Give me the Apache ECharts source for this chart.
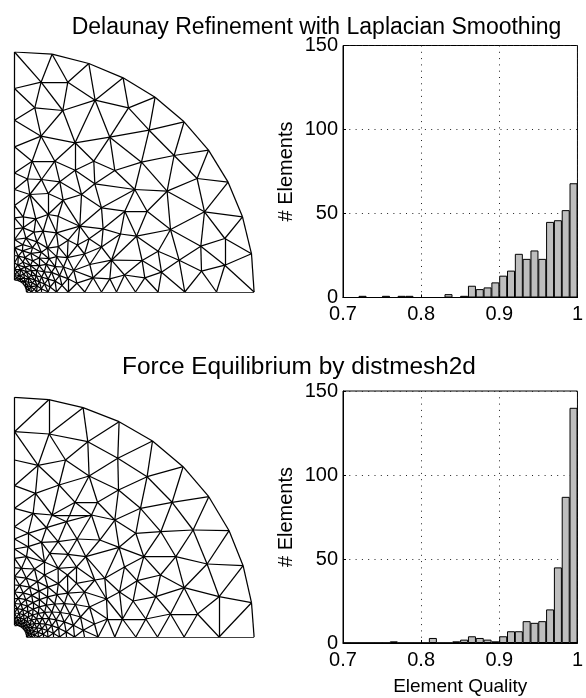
<!DOCTYPE html>
<html><head><meta charset="utf-8">
<script src="https://cdn.jsdelivr.net/npm/echarts@6/dist/echarts.min.js"></script>
<style>html,body{margin:0;padding:0;background:#fff}#c{width:586px;height:698px}</style>
</head><body><div id="c"></div>
<script>
// Histogram bins and counts
const binStarts = [0.70,0.71,0.72,0.73,0.74,0.75,0.76,0.77,0.78,0.79,0.80,0.81,0.82,0.83,0.84,0.85,0.86,0.87,0.88,0.89,0.90,0.91,0.92,0.93,0.94,0.95,0.96,0.97,0.98,0.99];
const delaunayCounts = [0,0,1,0,0,1,0,1,1,0,0,0,0,2,0,1,7,5,6,9,13,16,26,23,28,23,45,46,52,68];
const forceCounts    = [0,0,0,0,0,0,1,0,0,0,0,3,0,0,1,2,4,3,2,1,4,7,7,13,12,13,20,45,87,140];
const yTicksMax = 150;
const titles = ['Delaunay Refinement with Laplacian Smoothing','Force Equilibrium by distmesh2d'];

// Mesh nodes (mesh units: hole radius 12, outer radius 240)
const delaunayNodes = [
[0,240],[37.6,237.8],[74.3,228.5],[108.6,214.2],[140.6,194.8],[169.6,170.2],[194,141.8],[213.6,109.8],[228,75.2],[237,38.2],[239.6,0],
[0,203.5],[0,171.8],[0,145.2],[0,119],[0,102.5],[0,86.5],[0,74.2],[0,63.2],[0,52.5],[0,44.2],[0,36.5],[0,29.2],[0,22.5],[0,17.5],
[202,0],[170.3,0],[143.6,0],[121,0],[102,0],[87,0],[70.3,0],[53.6,0],[42,0],[33.6,0],[27,0],[22,0],[17,0],
[12,0],[11.6,3.1],[10.4,6],[8.5,8.5],[6,10.4],[3.1,11.6],[0,12],
[26.6,209.8],[53.3,209.8],[80.6,191.8],[20.3,184.2],[48.3,181.5],[114,184.2],[26.6,155.8],[60.6,149.2],[95.3,154.8],[17.6,130.8],[40.3,130.8],[79.3,130.8],
[134.6,161.8],[159.6,136.5],[127,129.8],[182.6,113.5],[152.6,100.8],[120.3,102.5],[132.6,80.8],[190,80.2],[156,62.5],[122,55.8],[210.3,53.5],[186.3,45.8],[143.6,40.8],[164.6,31.8],[127.6,31.5],[210.3,26.8],[187,20.8],[147,19.8],[130.3,14.2],
[60.6,121.8],[100.3,121.5],[13,113],[27,112.5],[45.3,110.2],[80.3,108.2],
[15.3,97.5],[33.6,98.5],[48.6,91.8],[67,97.5],[87,84.2],[110.3,80.8],
[8.6,75.2],[21.3,73.2],[33.6,77.5],[43.6,75.8],[65.3,65.8],[88.6,63.2],[106,58],
[8.6,64.2],[28.6,60.8],[42,59.2],[53.6,51.8],[74.6,53.2],[97,31.8],[75.3,27.5],[78.6,14.2],[95.3,13.2],[110,17],[70,38],[63,47],[87,45],
[14.4,2],[13.1,6.1],[10.3,10.3],[6.1,13.1],[2,14.4],
[16.2,5.3],[13.8,10],[10,13.8],[5.3,16.2],
[19.8,2.8],[17.8,9.1],[14.1,14.1],[9.1,17.8],[2.8,19.8],
[22.7,6.1],[20.4,11.8],[16.6,16.6],[11.8,20.4],[6.1,22.7],
[26.8,3.3],[25,10.1],[21.6,16.2],[16.6,21.3],[10.5,24.9],[3.3,26.8],
[30,8],[27.1,15],[22.3,21.5],[16,26.6],[8.5,29.8],
[35.6,5],[33.6,12.9],[29.8,20.1],[24.6,26.3],[18,31.2],[10.5,34.4],[3.8,35.8],
[40.6,10.9],[37.1,19.7],[31.7,27.6],[24.7,34],[16.4,38.7],[8,41.2],
[47.5,6.7],[45.1,16.4],[40.7,25.4],[34.5,33.3],[26.8,39.8],[18,44.5],[8.3,47.3],
[53.4,13.3],[49,25],[42.1,35.4],[33.1,43.9],[22.4,50.2],[11.4,53.8],
[62.4,8.8],[59.2,21.5],[52.8,34.3],[43.8,45.3],[19.5,59.9]
];
const forceNodes = [
[0,239.7],[34.3,237.3],[68.6,229.3],[104.6,215.3],[138,196],[168.6,170.3],[194.3,140.3],[214.6,106.3],[228.6,71.3],[237,34.3],[239.6,0],
[0,205.3],[0,177],[0,151.3],[0,128.7],[0,110.3],[0,98],[0,88],[0,78.7],[0,69.3],[0,60.3],[0,52],[0,45],[0,39],[0,33.5],[0,28.5],[0,24],[0,20],[0,17],
[204.6,0],[169.6,0],[143,0],[121.3,0],[100.3,0],[83.6,0],[70,0],[60,0],[52,0],[45,0],[39,0],[33.5,0],[28.5,0],[24,0],[20.3,0],[17,0],
[34.6,203],[73.3,195.3],[23.6,171.7],[51,177],[103.3,178.7],[74.6,161],[44.6,152],[21,143.7],[104,147],[60.6,134.7],[83,134.7],[37.6,122],[18.6,123.7],
[132.6,160.3],[157.6,134.7],[126,128.7],[178.6,107],[146.3,105.3],[121.3,103.7],[129.3,80.3],[161.3,80.3],[192.6,73],[146,62],[122.6,56.3],[169.6,49.3],[204.6,40.3],[141.3,40.3],[118.6,36],[156,23],[183,23],[131.3,18],
[55.3,122],[77,122],[100.3,117],[13.6,103.7],[32,109.3],[52,115.3],[43.6,95.3],[62.6,98],[85.3,97],[104.6,89.7],[13.6,90.3],[27,94.7],[12,80.3],[35.3,83.7],[53.6,82.7],[71.3,80.3],[90.3,58.7],[43.6,68.7],[62,53.7],[80.3,57],[62,70],[110,70],[105,45],
[80,13],[75,30],[70,45],[53,62],[30,75],[93,18],[92,38],[108,18],
[12,0],[11.8,2.3],[11.1,4.6],[10,6.7],[8.5,8.5],[6.7,10],[4.6,11.1],[2.3,11.8],[0,12],
[14.4,1.4],[13.9,4.2],[12.8,6.8],[11.2,9.2],[9.2,11.2],[6.8,12.8],[4.2,13.9],[1.4,14.4],
[16.7,3.3],[15.7,6.5],[14.1,9.5],[12,12],[9.5,14.1],[6.5,15.7],[3.3,16.7],
[19.9,2],[19.1,5.8],[17.6,9.4],[15.5,12.7],[12.7,15.5],[9.4,17.6],[5.8,19.1],[2,19.9],
[23.5,4.7],[22.2,9.2],[20,13.3],[17,17],[13.3,20],[9.2,22.2],[4.7,23.5],
[28.4,2.8],[27.3,8.3],[25.1,13.4],[22,18.1],[18.1,22],[13.4,25.1],[8.3,27.3],[2.8,28.4],
[32.9,6.5],[31,12.8],[27.8,18.6],[23.7,23.7],[18.6,27.8],[12.8,31],[6.5,32.9],
[38.8,3.8],[37.3,11.3],[34.4,18.4],[30.1,24.7],[24.7,30.1],[18.4,34.4],[11.3,37.3],[3.8,38.8],
[44.1,8.8],[41.6,17.2],[37.4,25],[31.8,31.8],[25,37.4],[17.2,41.6],[8.8,44.1],
[51.7,5.1],[49.8,15.1],[45.9,24.5],[40.2,33],[33,40.2],[24.5,45.9],[15.1,49.8],[5.1,51.7],
[58.9,11.7],[55.4,23],[49.9,33.4],[42.4,42.4],[33.4,49.9],[23,55.4],[11.7,58.9],
[68.7,6.8],[66,20],[60.9,32.5],[53.3,43.8],[43.8,53.3],[30,62],[20,68],[7,68.7]
];

function triangulate(pts){
  const S=1e4, all=pts.concat([[-S,-S],[3*S,-S],[-S,3*S]]), n=pts.length;
  let tris=[[n,n+1,n+2]];
  const inCirc=(t,p)=>{
    const [a,b,c]=t.map(i=>all[i]);
    const ax=a[0]-p[0],ay=a[1]-p[1],bx=b[0]-p[0],by=b[1]-p[1],cx=c[0]-p[0],cy=c[1]-p[1];
    const d=(ax*ax+ay*ay)*(bx*cy-cx*by)-(bx*bx+by*by)*(ax*cy-cx*ay)+(cx*cx+cy*cy)*(ax*by-bx*ay);
    const o=(b[0]-a[0])*(c[1]-a[1])-(b[1]-a[1])*(c[0]-a[0]);
    return o>0?d>0:d<0;
  };
  for(let i=0;i<n;i++){
    const bad=[],keep=[];
    tris.forEach(t=>(inCirc(t,all[i])?bad:keep).push(t));
    const cnt={};
    bad.forEach(t=>[[t[0],t[1]],[t[1],t[2]],[t[2],t[0]]].forEach(e=>{
      const k=Math.min(e[0],e[1])+'_'+Math.max(e[0],e[1]);cnt[k]=(cnt[k]||0)+1;}));
    tris=keep;
    Object.keys(cnt).forEach(k=>{if(cnt[k]===1){const [a,b]=k.split('_').map(Number);tris.push([a,b,i]);}});
  }
  return tris.filter(t=>t.every(v=>v<n));
}
function meshEdges(nodes,holeR){
  const seen={},out=[];
  triangulate(nodes).forEach(t=>{
    const p=t.map(i=>nodes[i]);
    if(p.every(q=>Math.hypot(q[0],q[1])<=holeR+0.4))return;
    const area=Math.abs((p[1][0]-p[0][0])*(p[2][1]-p[0][1])-(p[1][1]-p[0][1])*(p[2][0]-p[0][0]));
    if(area<1e-6)return;
    [[0,1],[1,2],[2,0]].forEach(([a,b])=>{
      const i=t[a],j=t[b],k=Math.min(i,j)+'_'+Math.max(i,j);
      if(!seen[k]){seen[k]=1;out.push({coords:[nodes[i],nodes[j]]});}
    });
  });
  return out;
}
const font='"Liberation Sans",Arial,sans-serif';
const meshAxis=i=>({type:'value',show:false,min:0,max:240,gridIndex:i});
function histX(i,name){return {type:'value',gridIndex:i,min:0.7,max:1,interval:0.1,
  name:name||'',nameLocation:'middle',nameGap:34,nameTextStyle:{fontFamily:font,fontSize:19,color:'#000'},
  axisLine:{show:true,lineStyle:{color:'#000',width:1}},axisTick:{show:true,inside:true,length:3,lineStyle:{color:'#000'}},
  axisLabel:{show:true,fontFamily:font,fontSize:20,color:'#000',margin:7,hideOverlap:false,showMinLabel:true,showMaxLabel:true,alignMaxLabel:'center',alignMinLabel:'center'},
  splitLine:{show:true,lineStyle:{color:'#222',type:[1,5.3],width:1}}};}
function histY(i){return {type:'value',gridIndex:i,min:0,max:yTicksMax,interval:50,
  name:'# Elements',nameLocation:'middle',nameGap:47,nameRotate:90,nameTextStyle:{fontFamily:font,fontSize:20,color:'#000'},
  axisLine:{show:true,lineStyle:{color:'#000',width:1}},axisTick:{show:true,inside:true,length:3,lineStyle:{color:'#000'}},
  axisLabel:{show:true,fontFamily:font,fontSize:20,color:'#000',margin:5,hideOverlap:false,showMinLabel:true,showMaxLabel:true},
  splitLine:{show:true,lineStyle:{color:'#222',type:[1,5.3],width:1}}};}
const meshSeries=(nodes,idx)=>({type:'lines',coordinateSystem:'cartesian2d',xAxisIndex:idx,yAxisIndex:idx,silent:true,
  polyline:false,lineStyle:{color:'#000',width:1.25,opacity:1,curveness:0},data:meshEdges(nodes,12)});
const barSeries=(counts,idx)=>({type:'bar',xAxisIndex:idx,yAxisIndex:idx,silent:true,barWidth:8,barGap:'-100%',
  itemStyle:{color:'#bebebe',borderColor:'#000',borderWidth:1},
  data:counts.map((v,i)=>[binStarts[i]+0.005,v])});
const chart=echarts.init(document.getElementById('c'),null,{renderer:'canvas'});
chart.setOption({
  animation:false,backgroundColor:'#fff',
  title:[
    {text:titles[0],left:311.5,top:11,textAlign:'center',textStyle:{fontFamily:font,fontSize:23,fontWeight:'normal',color:'#000'}},
    {text:titles[1],left:294,top:350,textAlign:'center',textStyle:{fontFamily:font,fontSize:24.4,fontWeight:'normal',color:'#000'}}
  ],
  grid:[
    {left:14.5,top:52,width:240,height:240,show:false},
    {left:343,top:45.5,width:240,height:252,show:true,borderColor:'#000',borderWidth:1,backgroundColor:'transparent'},
    {left:14.5,top:397,width:240,height:240,show:false},
    {left:343,top:391,width:240,height:252,show:true,borderColor:'#000',borderWidth:1,backgroundColor:'transparent'}
  ],
  xAxis:[meshAxis(0),histX(1),meshAxis(2),histX(3,'Element Quality')],
  yAxis:[meshAxis(0),histY(1),meshAxis(2),histY(3)],
  series:[meshSeries(delaunayNodes,0),barSeries(delaunayCounts,1),meshSeries(forceNodes,2),barSeries(forceCounts,3)]
});
</script></body></html>
